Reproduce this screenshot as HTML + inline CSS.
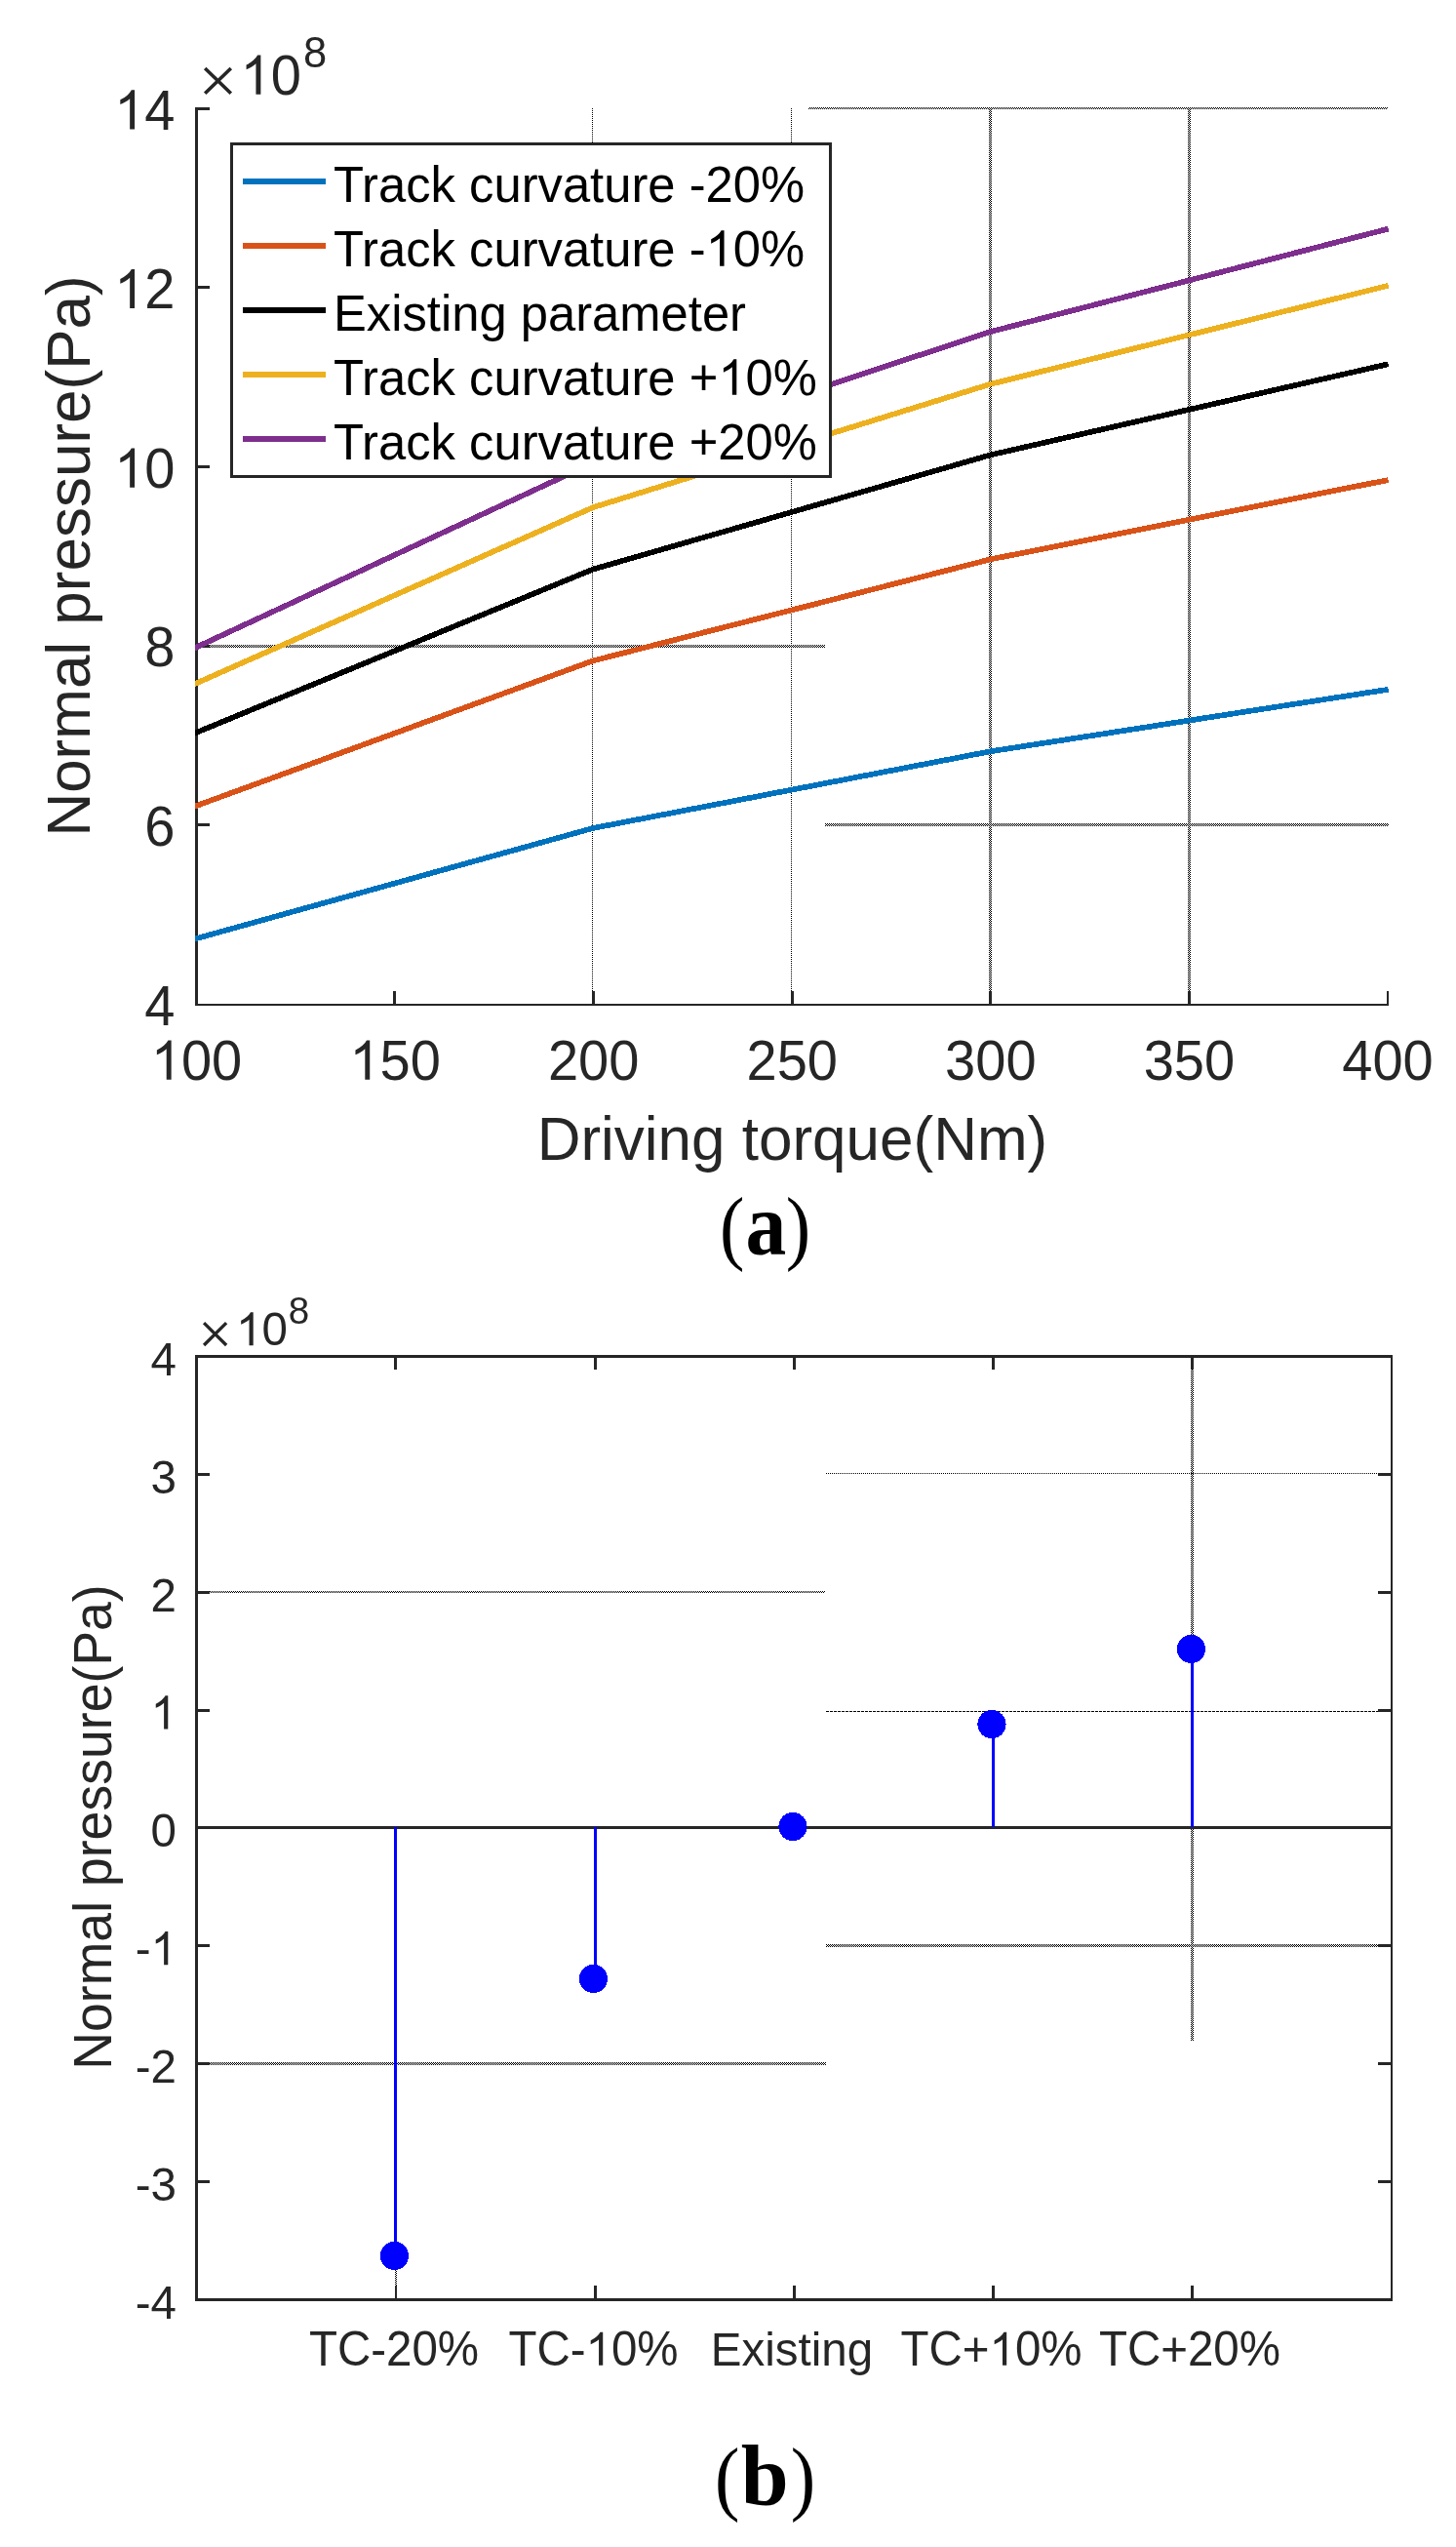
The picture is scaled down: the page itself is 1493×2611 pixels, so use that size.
<!DOCTYPE html>
<html><head><meta charset="utf-8"><title>Figure</title>
<style>html,body{margin:0;padding:0;background:#fff;overflow:hidden;}svg{display:block;}text{font-family:"Liberation Sans", sans-serif;}svg{will-change:transform;}</style></head>
<body>
<svg width="1493" height="2611" viewBox="0 0 1493 2611">
<defs>
<pattern id="chk" x="0" y="0" width="2" height="2" patternUnits="userSpaceOnUse"><rect x="0" y="0" width="1" height="1" fill="#000"/><rect x="1" y="1" width="1" height="1" fill="#000"/></pattern>
<pattern id="dotv" x="0" y="0" width="1" height="2" patternUnits="userSpaceOnUse"><rect x="0" y="1" width="1" height="1" fill="#000"/></pattern>
<pattern id="doth" x="0" y="0" width="2" height="1" patternUnits="userSpaceOnUse"><rect x="1" y="0" width="1" height="1" fill="#000"/></pattern>
<clipPath id="clipA"><rect x="200" y="100" width="1240" height="940"/></clipPath>
<pattern id="dash" x="847" y="0" width="4" height="1" patternUnits="userSpaceOnUse"><rect x="0" y="0" width="3" height="1" fill="#000"/></pattern>
</defs>
<rect width="1493" height="2611" fill="#fff"/>
<rect x="607" y="111" width="1" height="905" fill="url(#dotv)" shape-rendering="crispEdges"/>
<rect x="811" y="111" width="1" height="905" fill="url(#dotv)" shape-rendering="crispEdges"/>
<rect x="1014" y="110" width="3" height="906" fill="url(#chk)" shape-rendering="crispEdges"/>
<rect x="1218" y="110" width="3" height="906" fill="url(#chk)" shape-rendering="crispEdges"/>
<rect x="829" y="110" width="594" height="2" fill="url(#chk)" shape-rendering="crispEdges"/>
<rect x="203" y="661" width="643" height="3" fill="url(#chk)" shape-rendering="crispEdges"/>
<rect x="846" y="844" width="578" height="3" fill="url(#chk)" shape-rendering="crispEdges"/>
<rect x="200" y="110" width="3" height="921" fill="#262626" />
<rect x="200" y="1029" width="1224" height="2" fill="#262626" />
<rect x="200" y="110" width="15" height="3" fill="#262626" />
<rect x="200" y="293" width="15" height="3" fill="#262626" />
<rect x="200" y="477" width="15" height="3" fill="#262626" />
<rect x="200" y="661" width="15" height="3" fill="#262626" />
<rect x="200" y="844" width="15" height="3" fill="#262626" />
<rect x="403" y="1016" width="3" height="14" fill="#262626" />
<rect x="607" y="1016" width="3" height="14" fill="#262626" />
<rect x="811" y="1016" width="3" height="14" fill="#262626" />
<rect x="1014" y="1016" width="3" height="14" fill="#262626" />
<rect x="1218" y="1016" width="3" height="14" fill="#262626" />
<rect x="1422" y="1016" width="2" height="15" fill="#262626" />
<polyline clip-path="url(#clipA)" points="197.0,963.3 608.0,849.0 1015.5,770.3 1423.6,706.8" fill="none" stroke="#0072BD" stroke-width="5.7" stroke-linejoin="round" shape-rendering="crispEdges"/>
<polyline clip-path="url(#clipA)" points="197.0,827.6 608.0,677.4 1015.5,573.4 1423.6,492.0" fill="none" stroke="#D95319" stroke-width="5.7" stroke-linejoin="round" shape-rendering="crispEdges"/>
<polyline clip-path="url(#clipA)" points="197.0,752.7 608.0,583.6 1015.5,466.4 1423.6,373.2" fill="none" stroke="#000000" stroke-width="5.7" stroke-linejoin="round" shape-rendering="crispEdges"/>
<polyline clip-path="url(#clipA)" points="197.0,702.3 608.0,520.2 1015.5,393.8 1423.6,292.8" fill="none" stroke="#EDB120" stroke-width="5.7" stroke-linejoin="round" shape-rendering="crispEdges"/>
<polyline clip-path="url(#clipA)" points="197.0,665.5 608.0,474.5 1015.5,340.1 1423.6,234.6" fill="none" stroke="#7E2F8E" stroke-width="5.7" stroke-linejoin="round" shape-rendering="crispEdges"/>
<text transform="translate(148.36 1050.5) scale(1 1.03)" font-size="56" fill="#262626" >4</text>
<text transform="translate(148.36 866.9) scale(1 1.03)" font-size="56" fill="#262626" >6</text>
<text transform="translate(148.36 683.3) scale(1 1.03)" font-size="56" fill="#262626" >8</text>
<path transform="translate(117.21 499.70) scale(0.02734 -0.02734)" d="M763 0H583V1147Q518 1085 412.5 1023T223 930V1104Q373 1174.5 485.5 1275T644 1469H763Z" fill="#262626"/>
<text transform="translate(148.36 499.7) scale(1 1.03)" font-size="56" fill="#262626" >0</text>
<path transform="translate(117.21 316.10) scale(0.02734 -0.02734)" d="M763 0H583V1147Q518 1085 412.5 1023T223 930V1104Q373 1174.5 485.5 1275T644 1469H763Z" fill="#262626"/>
<text transform="translate(148.36 316.1) scale(1 1.03)" font-size="56" fill="#262626" >2</text>
<path transform="translate(117.21 132.50) scale(0.02734 -0.02734)" d="M763 0H583V1147Q518 1085 412.5 1023T223 930V1104Q373 1174.5 485.5 1275T644 1469H763Z" fill="#262626"/>
<text transform="translate(148.36 132.5) scale(1 1.03)" font-size="56" fill="#262626" >4</text>
<path transform="translate(154.78 1106.70) scale(0.02734 -0.02734)" d="M763 0H583V1147Q518 1085 412.5 1023T223 930V1104Q373 1174.5 485.5 1275T644 1469H763Z" fill="#262626"/>
<text transform="translate(185.93 1106.7) scale(1 1.03)" font-size="56" fill="#262626" >00</text>
<path transform="translate(358.37 1106.70) scale(0.02734 -0.02734)" d="M763 0H583V1147Q518 1085 412.5 1023T223 930V1104Q373 1174.5 485.5 1275T644 1469H763Z" fill="#262626"/>
<text transform="translate(389.51 1106.7) scale(1 1.03)" font-size="56" fill="#262626" >50</text>
<text transform="translate(561.95 1106.7) scale(1 1.03)" font-size="56" fill="#262626" >200</text>
<text transform="translate(765.53 1106.7) scale(1 1.03)" font-size="56" fill="#262626" >250</text>
<text transform="translate(969.12 1106.7) scale(1 1.03)" font-size="56" fill="#262626" >300</text>
<text transform="translate(1172.70 1106.7) scale(1 1.03)" font-size="56" fill="#262626" >350</text>
<text transform="translate(1376.28 1106.7) scale(1 1.03)" font-size="56" fill="#262626" >400</text>
<path d="M210.2 70 L236.8 95.8 M210.2 95.8 L236.8 70" stroke="#262626" stroke-width="3.6" fill="none"/>
<path transform="translate(246.50 96.70) scale(0.02734 -0.02734)" d="M763 0H583V1147Q518 1085 412.5 1023T223 930V1104Q373 1174.5 485.5 1275T644 1469H763Z" fill="#262626"/>
<text transform="translate(277.64 96.7) scale(1 1.03)" font-size="56" fill="#262626" >0</text>
<text transform="translate(311.00 68.5) scale(1 1.03)" font-size="43.5" fill="#262626" >8</text>
<text transform="translate(550.67 1189.3) scale(1 1.025)" font-size="62" fill="#262626" >Driving&#160;torque(Nm)</text>
<text transform="translate(92 570) rotate(-90) scale(1 1.025)" font-size="62" text-anchor="middle" fill="#262626">Normal pressure(Pa)</text>
<rect x="236" y="146" width="617" height="344" fill="#fff" />
<rect x="237.5" y="147.5" width="614" height="341" fill="#fff" stroke="#262626" stroke-width="3"/>
<rect x="249" y="183" width="85" height="6" fill="#0072BD" />
<text transform="translate(342.00 206.7) scale(1 1.025)" font-size="50.75" fill="#000" >Track&#160;curvature&#160;-20%</text>
<rect x="249" y="249" width="85" height="6" fill="#D95319" />
<text transform="translate(342.00 272.7) scale(1 1.025)" font-size="50.75" fill="#000" >Track&#160;curvature&#160;-</text>
<path transform="translate(723.64 272.70) scale(0.02478 -0.02478)" d="M763 0H583V1147Q518 1085 412.5 1023T223 930V1104Q373 1174.5 485.5 1275T644 1469H763Z" fill="#000"/>
<text transform="translate(751.87 272.7) scale(1 1.025)" font-size="50.75" fill="#000" >0%</text>
<rect x="249" y="315" width="85" height="6" fill="#000000" />
<text transform="translate(342.00 338.7) scale(1 1.025)" font-size="50.75" fill="#000" >Existing&#160;parameter</text>
<rect x="249" y="381" width="85" height="6" fill="#EDB120" />
<text transform="translate(342.00 404.7) scale(1 1.025)" font-size="50.75" fill="#000" >Track&#160;curvature&#160;+</text>
<path transform="translate(736.38 404.70) scale(0.02478 -0.02478)" d="M763 0H583V1147Q518 1085 412.5 1023T223 930V1104Q373 1174.5 485.5 1275T644 1469H763Z" fill="#000"/>
<text transform="translate(764.60 404.7) scale(1 1.025)" font-size="50.75" fill="#000" >0%</text>
<rect x="249" y="447" width="85" height="6" fill="#7E2F8E" />
<text transform="translate(342.00 470.7) scale(1 1.025)" font-size="50.75" fill="#000" >Track&#160;curvature&#160;+20%</text>
<text transform="translate(737.9 1285.7) scale(0.9 1)" font-size="84.7" fill="#000" style="font-family:'Liberation Serif', serif">(</text>
<text transform="translate(805.8 1285.7) scale(0.9 1)" font-size="84.7" fill="#000" style="font-family:'Liberation Serif', serif">)</text>
<text transform="translate(764.4 1285.5) scale(0.95 1.03)" font-size="88" font-weight="bold" fill="#000" style="font-family:'Liberation Serif', serif">a</text>
<rect x="846" y="1510" width="567" height="1" fill="url(#doth)" shape-rendering="crispEdges"/>
<rect x="847" y="1754" width="566" height="1" fill="url(#dash)" shape-rendering="crispEdges"/>
<rect x="215" y="1631" width="631" height="2" fill="url(#chk)" shape-rendering="crispEdges"/>
<rect x="847" y="1993" width="566" height="3" fill="url(#chk)" shape-rendering="crispEdges"/>
<rect x="215" y="2114" width="632" height="3" fill="url(#chk)" shape-rendering="crispEdges"/>
<rect x="1221" y="1404" width="3" height="688" fill="url(#chk)" shape-rendering="crispEdges"/>
<rect x="405" y="2327" width="2" height="16" fill="url(#chk)" shape-rendering="crispEdges"/>
<rect x="200" y="1872" width="1228" height="3" fill="#262626" />
<rect x="404" y="1873" width="3" height="439.5" fill="#0000FF" />
<rect x="609" y="1873" width="3" height="155.5" fill="#0000FF" />
<rect x="1017" y="1767.5" width="3" height="105.5" fill="#0000FF" />
<rect x="1221" y="1690.5" width="3" height="182.5" fill="#0000FF" />
<circle cx="404.5" cy="2312.5" r="14.6" fill="#0000FF" shape-rendering="crispEdges"/>
<circle cx="608.5" cy="2028.5" r="14.6" fill="#0000FF" shape-rendering="crispEdges"/>
<circle cx="813" cy="1872.5" r="14.6" fill="#0000FF" shape-rendering="crispEdges"/>
<circle cx="1017" cy="1767.5" r="14.6" fill="#0000FF" shape-rendering="crispEdges"/>
<circle cx="1221.5" cy="1690.5" r="14.6" fill="#0000FF" shape-rendering="crispEdges"/>
<rect x="200" y="1389" width="3" height="970" fill="#262626" />
<rect x="200" y="1389" width="1228" height="3" fill="#262626" />
<rect x="1426" y="1389" width="2" height="970" fill="#262626" />
<rect x="200" y="2356" width="1228" height="3" fill="#262626" />
<rect x="200" y="1510" width="15" height="3" fill="#262626" />
<rect x="1413" y="1510" width="15" height="3" fill="#262626" />
<rect x="200" y="1631" width="15" height="3" fill="#262626" />
<rect x="1413" y="1631" width="15" height="3" fill="#262626" />
<rect x="200" y="1752" width="15" height="3" fill="#262626" />
<rect x="1413" y="1752" width="15" height="3" fill="#262626" />
<rect x="200" y="1993" width="15" height="3" fill="#262626" />
<rect x="1413" y="1993" width="15" height="3" fill="#262626" />
<rect x="200" y="2114" width="15" height="3" fill="#262626" />
<rect x="1413" y="2114" width="15" height="3" fill="#262626" />
<rect x="200" y="2235" width="15" height="3" fill="#262626" />
<rect x="1413" y="2235" width="15" height="3" fill="#262626" />
<rect x="1413" y="1872" width="15" height="3" fill="#262626" />
<rect x="404" y="1389" width="3" height="15" fill="#262626" />
<rect x="405" y="2343" width="2" height="14" fill="#262626" />
<rect x="609" y="1389" width="3" height="15" fill="#262626" />
<rect x="609" y="2343" width="3" height="14" fill="#262626" />
<rect x="813" y="1389" width="3" height="15" fill="#262626" />
<rect x="813" y="2343" width="3" height="14" fill="#262626" />
<rect x="1017" y="1389" width="3" height="15" fill="#262626" />
<rect x="1017" y="2343" width="3" height="14" fill="#262626" />
<rect x="1221" y="1389" width="3" height="15" fill="#262626" />
<rect x="1221" y="2343" width="3" height="14" fill="#262626" />
<text transform="translate(138.76 2376.8) scale(1 1.03)" font-size="47.5" fill="#262626" >-4</text>
<text transform="translate(138.76 2255.93) scale(1 1.03)" font-size="47.5" fill="#262626" >-3</text>
<text transform="translate(138.76 2135.05) scale(1 1.03)" font-size="47.5" fill="#262626" >-2</text>
<text transform="translate(138.76 2014.17) scale(1 1.03)" font-size="47.5" fill="#262626" >-</text>
<path transform="translate(154.58 2014.17) scale(0.02319 -0.02319)" d="M763 0H583V1147Q518 1085 412.5 1023T223 930V1104Q373 1174.5 485.5 1275T644 1469H763Z" fill="#262626"/>
<text transform="translate(154.58 1893.3) scale(1 1.03)" font-size="47.5" fill="#262626" >0</text>
<path transform="translate(154.58 1772.42) scale(0.02319 -0.02319)" d="M763 0H583V1147Q518 1085 412.5 1023T223 930V1104Q373 1174.5 485.5 1275T644 1469H763Z" fill="#262626"/>
<text transform="translate(154.58 1651.55) scale(1 1.03)" font-size="47.5" fill="#262626" >2</text>
<text transform="translate(154.58 1530.67) scale(1 1.03)" font-size="47.5" fill="#262626" >3</text>
<text transform="translate(154.58 1409.8) scale(1 1.03)" font-size="47.5" fill="#262626" >4</text>
<text transform="translate(316.90 2424.8) scale(1 1.04)" font-size="47.5" fill="#262626" >TC-20%</text>
<text transform="translate(521.40 2424.8) scale(1 1.04)" font-size="47.5" fill="#262626" >TC-</text>
<path transform="translate(600.53 2424.80) scale(0.02319 -0.02319)" d="M763 0H583V1147Q518 1085 412.5 1023T223 930V1104Q373 1174.5 485.5 1275T644 1469H763Z" fill="#262626"/>
<text transform="translate(626.95 2424.8) scale(1 1.04)" font-size="47.5" fill="#262626" >0%</text>
<text x="812" y="2424.8" font-size="47.5" text-anchor="middle" fill="#262626" >Existing</text>
<text transform="translate(923.44 2424.8) scale(1 1.04)" font-size="47.5" fill="#262626" >TC+</text>
<path transform="translate(1014.49 2424.80) scale(0.02319 -0.02319)" d="M763 0H583V1147Q518 1085 412.5 1023T223 930V1104Q373 1174.5 485.5 1275T644 1469H763Z" fill="#262626"/>
<text transform="translate(1040.91 2424.8) scale(1 1.04)" font-size="47.5" fill="#262626" >0%</text>
<text transform="translate(1126.94 2424.8) scale(1 1.04)" font-size="47.5" fill="#262626" >TC+20%</text>
<path d="M209.1 1356.2 L232.1 1379 M209.1 1379 L232.1 1356.2" stroke="#262626" stroke-width="3.3" fill="none"/>
<path transform="translate(242.00 1379.30) scale(0.02319 -0.02319)" d="M763 0H583V1147Q518 1085 412.5 1023T223 930V1104Q373 1174.5 485.5 1275T644 1469H763Z" fill="#262626"/>
<text transform="translate(268.42 1379.3) scale(1 1.03)" font-size="47.5" fill="#262626" >0</text>
<text transform="translate(295.80 1356.6) scale(1 1.03)" font-size="38.5" fill="#262626" >8</text>
<text transform="translate(114 1873) rotate(-90) scale(1 1.025)" font-size="53.6" text-anchor="middle" fill="#262626">Normal pressure(Pa)</text>
<text transform="translate(733 2567.9) scale(0.9 1)" font-size="84.7" fill="#000" style="font-family:'Liberation Serif', serif">(</text>
<text transform="translate(810.8 2567.9) scale(0.9 1)" font-size="84.7" fill="#000" style="font-family:'Liberation Serif', serif">)</text>
<text transform="translate(759.7 2568) scale(1 1)" font-size="88" font-weight="bold" fill="#000" style="font-family:'Liberation Serif', serif">b</text>
</svg>
</body></html>
